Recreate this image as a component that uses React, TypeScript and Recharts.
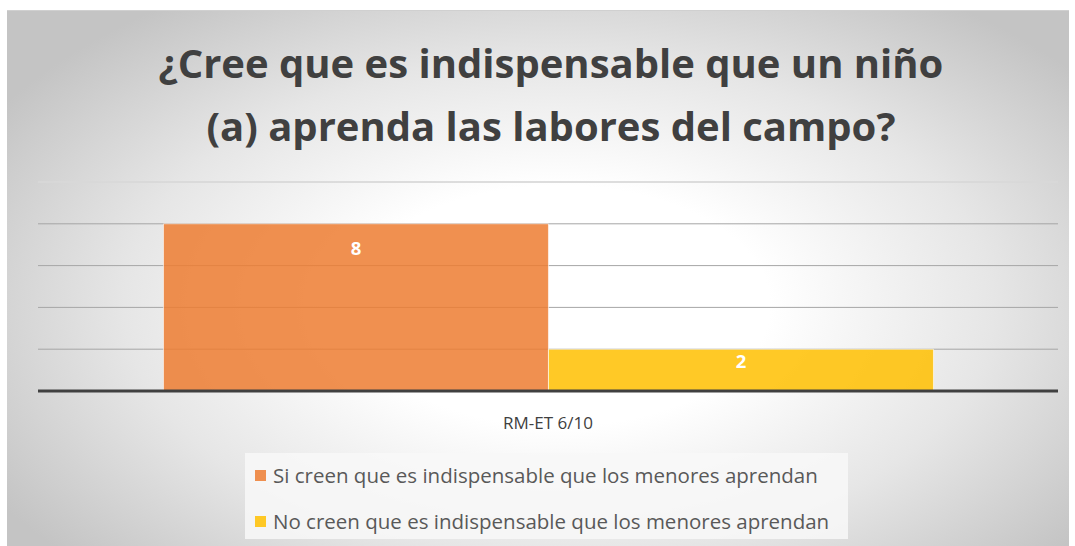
import React from "react";
import { BarChart, Bar, XAxis, YAxis, CartesianGrid, LabelList, ReferenceLine } from "recharts";

const categories = ["RM-ET 6/10"];
const siValues = [8];
const noValues = [2];
const yTicks = [0, 2, 4, 6, 8, 10];
const seriesNames = [
  "Si creen que es indispensable que los menores aprendan",
  "No creen que es indispensable que los menores aprendan",
];
const seriesColors = ["#ED7D31", "#FFC000"];

const data = categories.map((name, i) => ({ name, si: siValues[i], no: noValues[i] }));

const FONT = "'Open Sans', 'Noto Sans', sans-serif";

// leyenda en recuadro claro, centrada bajo el eje
function LegendBox() {
  return (
    <div
      style={{
        position: "absolute",
        left: 238,
        top: 442,
        width: 603,
        height: 86,
        boxSizing: "border-box",
        background: "rgba(248,248,248,0.85)",
        padding: "0 10px",
        fontFamily: FONT,
        fontSize: 20.5,
        color: "#595959",
      }}
    >
      {seriesNames.map((n, i) => (
        <div key={n} style={{ display: "flex", alignItems: "center", height: 46, marginTop: i === 0 ? -1 : 0 }}>
          <span
            style={{
              width: 11,
              height: 11,
              background: seriesColors[i],
              opacity: 0.85,
              display: "inline-block",
              marginRight: 7,
              flex: "none",
            }}
          />
          <span style={{ whiteSpace: "nowrap" }}>{n}</span>
        </div>
      ))}
    </div>
  );
}

export default function App() {
  return (
    <div
      style={{
        position: "absolute",
        left: 7,
        top: 10,
        width: 1062,
        height: 536,
        borderTop: "1px solid #d0d0d0",
        background:
          "radial-gradient(ellipse 62% 70% at 52% 55%, #ffffff 0%, #ffffff 32%, #e6e6e6 66%, #c4c4c4 100%)",
        overflow: "hidden",
      }}
    >
      <div
        style={{
          position: "absolute",
          left: 13,
          top: 20,
          width: 1062,
          textAlign: "center",
          fontFamily: FONT,
          fontWeight: 700,
          fontSize: 40,
          lineHeight: "63px",
          color: "#404040",
        }}
      >
        ¿Cree que es indispensable que un niño
        <br />
        (a) aprenda las labores del campo?
      </div>
      <BarChart
        width={1062}
        height={536}
        data={data}
        margin={{ top: 171, right: 11, bottom: 146, left: 31 }}
        barCategoryGap="12.3%"
        barGap={0}
        style={{ position: "absolute", left: 0, top: 0 }}
      >
        <CartesianGrid vertical={false} stroke="#a6a6a6" strokeWidth={1} />
        <ReferenceLine y={10} stroke="#e0e0e0" strokeWidth={1.5} />
        <YAxis hide domain={[0, 10]} ticks={yTicks} />
        <XAxis
          dataKey="name"
          axisLine={{ stroke: "#404040", strokeWidth: 3 }}
          tickLine={false}
          tick={{ fill: "#404040", fontSize: 17, fontFamily: FONT }}
          tickMargin={20}
          height={10}
        />
        <Bar
          dataKey="si"
          name={seriesNames[0]}
          fill={seriesColors[0]}
          fillOpacity={0.85}
          stroke="#ffffff"
          strokeOpacity={0.6}
          isAnimationActive={false}
        >
          <LabelList
            dataKey="si"
            position="insideTop"
            offset={18}
            fill="#ffffff"
            fontSize={18.5}
            fontWeight={700}
            fontFamily={FONT}
          />
        </Bar>
        <Bar
          dataKey="no"
          name={seriesNames[1]}
          fill={seriesColors[1]}
          fillOpacity={0.85}
          stroke="#ffffff"
          strokeOpacity={0.6}
          isAnimationActive={false}
        >
          <LabelList
            dataKey="no"
            position="insideTop"
            offset={6}
            fill="#ffffff"
            fontSize={18.5}
            fontWeight={700}
            fontFamily={FONT}
          />
        </Bar>
      </BarChart>
      <LegendBox />
    </div>
  );
}
